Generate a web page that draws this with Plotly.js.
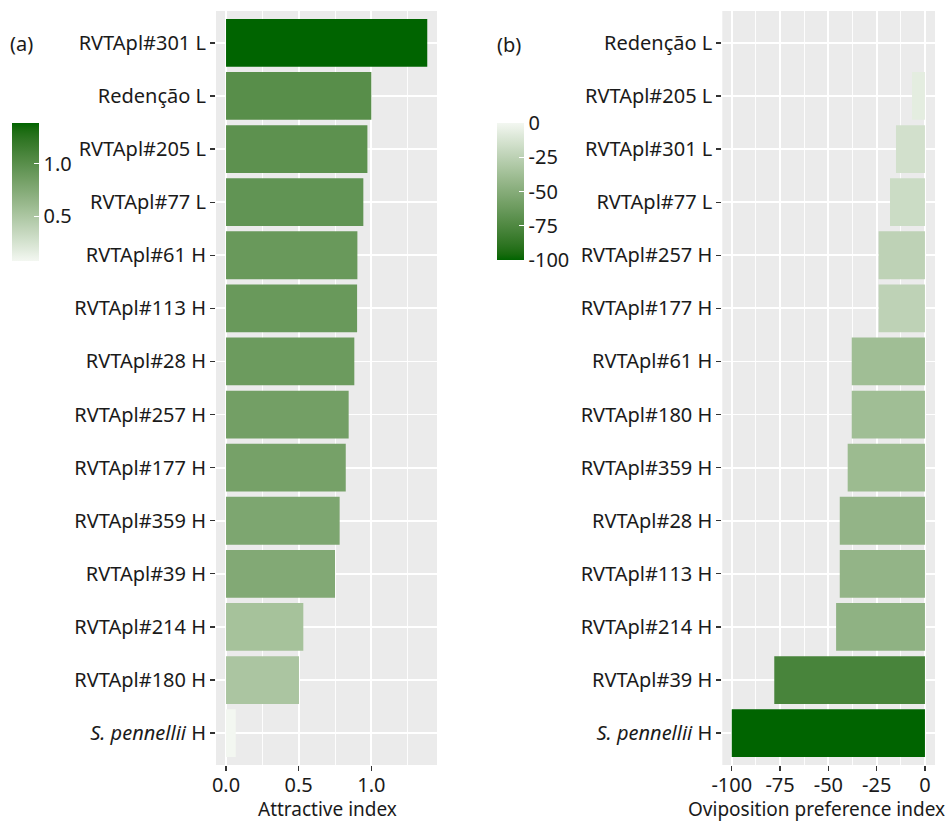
<!DOCTYPE html>
<html>
<head>
<meta charset="utf-8">
<script src="https://cdn.plot.ly/plotly-3.0.1.min.js"></script>
<style>
  html, body { margin: 0; padding: 0; background: #fff; }
  #chart { width: 951px; height: 823px; }
</style>
</head>
<body>
<div id="chart"></div>
<script>
// ---- Data ----
const catsA = ['RVTApl#301 L', 'Redenção L', 'RVTApl#205 L', 'RVTApl#77 L', 'RVTApl#61 H', 'RVTApl#113 H',
  'RVTApl#28 H', 'RVTApl#257 H', 'RVTApl#177 H', 'RVTApl#359 H', 'RVTApl#39 H', 'RVTApl#214 H',
  'RVTApl#180 H', '<i>S. pennellii</i> H'];
const attractiveIndex = [1.385, 1.0, 0.973, 0.945, 0.904, 0.902, 0.883, 0.844, 0.824, 0.782, 0.750, 0.532, 0.502, 0.067];

const catsB = ['Redenção L', 'RVTApl#205 L', 'RVTApl#301 L', 'RVTApl#77 L', 'RVTApl#257 H', 'RVTApl#177 H',
  'RVTApl#61 H', 'RVTApl#180 H', 'RVTApl#359 H', 'RVTApl#28 H', 'RVTApl#113 H', 'RVTApl#214 H',
  'RVTApl#39 H', '<i>S. pennellii</i> H'];
const ovipositionIndex = [0, -6.7, -15, -18.1, -24, -24, -37.9, -37.9, -40, -44.1, -44.1, -46, -78, -100];

const ticksA = [0, 0.5, 1.0];
const tickTextA = ['0.0', '0.5', '1.0'];
const ticksB = [-100, -75, -50, -25, 0];
const tickTextB = ['-100', '-75', '-50', '-25', '0'];
const cbTicksA = [0.5, 1.0];
const cbTickTextA = ['0.5', '1.0'];
const cbTicksB = [0, -25, -50, -75, -100];
const cbTickTextB = ['0', '-25', '-50', '-75', '-100'];
const titleA = 'Attractive index';
const titleB = 'Oviposition preference index';

// ---- Lab-space gradient pale -> darkgreen (like ggplot's scale_fill_gradient) ----
function hex2rgb(h) { return [parseInt(h.slice(1,3),16), parseInt(h.slice(3,5),16), parseInt(h.slice(5,7),16)]; }
function s2l(c) { c /= 255; return c <= 0.04045 ? c / 12.92 : Math.pow((c + 0.055) / 1.055, 2.4); }
function l2s(c) { const v = c <= 0.0031308 ? 12.92 * c : 1.055 * Math.pow(c, 1/2.4) - 0.055; return Math.max(0, Math.min(255, Math.round(v * 255))); }
const Wn = [0.95047, 1.0, 1.08883];
function f(t) { return t > 216/24389 ? Math.cbrt(t) : (24389/27 * t + 16) / 116; }
function finv(t) { return t*t*t > 216/24389 ? t*t*t : (116 * t - 16) / (24389/27); }
function rgb2lab(rgb) {
  const [r, g, b] = rgb.map(s2l);
  const X = 0.4124 * r + 0.3576 * g + 0.1805 * b;
  const Y = 0.2126 * r + 0.7152 * g + 0.0722 * b;
  const Z = 0.0193 * r + 0.1192 * g + 0.9505 * b;
  const fx = f(X / Wn[0]), fy = f(Y / Wn[1]), fz = f(Z / Wn[2]);
  return [116 * fy - 16, 500 * (fx - fy), 200 * (fy - fz)];
}
function lab2rgb(lab) {
  const fy = (lab[0] + 16) / 116, fx = fy + lab[1] / 500, fz = fy - lab[2] / 200;
  const X = Wn[0] * finv(fx), Y = Wn[1] * finv(fy), Z = Wn[2] * finv(fz);
  const r = 3.2406 * X - 1.5372 * Y - 0.4986 * Z;
  const g = -0.9689 * X + 1.8758 * Y + 0.0415 * Z;
  const b = 0.0557 * X - 0.2040 * Y + 1.0570 * Z;
  return [l2s(r), l2s(g), l2s(b)];
}
function labScale(lowHex, highHex, n) {
  const a = rgb2lab(hex2rgb(lowHex)), b = rgb2lab(hex2rgb(highHex));
  const out = [];
  for (let i = 0; i <= n; i++) {
    const t = i / n;
    const c = lab2rgb([a[0] + (b[0] - a[0]) * t, a[1] + (b[1] - a[1]) * t, a[2] + (b[2] - a[2]) * t]);
    out.push([t, 'rgb(' + c.join(',') + ')']);
  }
  return out;
}
const greenScale = labScale('#F3F7F1', '#006400', 24);

const FONT = '"Noto Sans", "Open Sans", sans-serif';
const TXT = '#1a1a1a';
const FS = 20;
const W = 951, H = 823;

const traceA = {
  type: 'bar', orientation: 'h',
  x: attractiveIndex, y: catsA,
  width: 0.9,
  xaxis: 'x', yaxis: 'y',
  marker: {
    color: attractiveIndex,
    colorscale: greenScale,
    cmin: Math.min(...attractiveIndex), cmax: Math.max(...attractiveIndex),
    line: { width: 0 },
    colorbar: {
      x: 12 / W, xanchor: 'left', xref: 'paper',
      y: 1 - 192.5 / H, yanchor: 'middle',
      len: 138, lenmode: 'pixels',
      thickness: 27, thicknessmode: 'pixels',
      outlinewidth: 0, xpad: 0, ypad: 0,
      tickmode: 'array', tickvals: cbTicksA, ticktext: cbTickTextA,
      ticks: 'inside', ticklen: 5, tickcolor: '#ffffff', tickwidth: 1,
      tickfont: { family: FONT, size: FS, color: TXT }
    }
  },
  hoverinfo: 'skip', showlegend: false
};

const traceB = {
  type: 'bar', orientation: 'h',
  x: ovipositionIndex, y: catsB,
  width: 0.9,
  xaxis: 'x2', yaxis: 'y2',
  marker: {
    color: ovipositionIndex,
    colorscale: greenScale, reversescale: true,
    cmin: Math.min(...ovipositionIndex), cmax: Math.max(...ovipositionIndex),
    line: { width: 0 },
    colorbar: {
      x: 497.5 / W, xanchor: 'left', xref: 'paper',
      y: 1 - 191.5 / H, yanchor: 'middle',
      len: 137, lenmode: 'pixels',
      thickness: 27, thicknessmode: 'pixels',
      outlinewidth: 0, xpad: 0, ypad: 0,
      tickmode: 'array', tickvals: cbTicksB, ticktext: cbTickTextB,
      ticks: 'inside', ticklen: 5, tickcolor: '#ffffff', tickwidth: 1,
      tickfont: { family: FONT, size: FS, color: TXT }
    }
  },
  hoverinfo: 'skip', showlegend: false
};

const yDomain = [1 - 765 / H, 1 - 11 / H];
const baseX = {
  showgrid: true, gridcolor: '#ffffff', gridwidth: 1.8,
  zeroline: false, showline: false,
  ticks: 'outside', ticklen: 5, tickwidth: 1.3, tickcolor: '#333333',
  tickfont: { family: FONT, size: FS, color: TXT },
  ticklabelstandoff: -3,
  tickmode: 'array', automargin: false, fixedrange: true
};
const baseY = {
  type: 'category',
  showgrid: true, gridcolor: '#ffffff', gridwidth: 1.8,
  zeroline: false, showline: false,
  ticks: 'outside', ticklen: 5, tickwidth: 1.3, tickcolor: '#333333',
  tickfont: { family: FONT, size: FS, color: TXT },
  range: [13.6, -0.6], domain: yDomain, automargin: false, fixedrange: true
};

const layout = {
  width: W, height: H,
  margin: { l: 0, r: 0, t: 0, b: 0 },
  paper_bgcolor: '#ffffff',
  plot_bgcolor: '#EBEBEB',
  font: { family: FONT, color: TXT },
  showlegend: false,
  xaxis: Object.assign({}, baseX, {
    domain: [216 / W, 437 / W], range: [-0.069, 1.452], anchor: 'y',
    tickvals: ticksA, ticktext: tickTextA,
    minor: { dtick: 0.25, tick0: 0, showgrid: true, gridcolor: '#ffffff', gridwidth: 0.9, ticks: '' }
  }),
  yaxis: Object.assign({}, baseY, {
    anchor: 'x', categoryorder: 'array', categoryarray: catsA
  }),
  xaxis2: Object.assign({}, baseX, {
    domain: [722.3 / W, 935 / W], range: [-104.9, 5.2], anchor: 'y2',
    tickvals: ticksB, ticktext: tickTextB,
    minor: { dtick: 12.5, tick0: 0, showgrid: true, gridcolor: '#ffffff', gridwidth: 0.9, ticks: '' }
  }),
  yaxis2: Object.assign({}, baseY, {
    anchor: 'x2', categoryorder: 'array', categoryarray: catsB
  }),
  annotations: [
    { text: '(a)', xref: 'paper', yref: 'paper', x: 8 / W, y: 1 - 43 / H, xanchor: 'left', yanchor: 'middle',
      showarrow: false, font: { family: FONT, size: FS, color: TXT } },
    { text: '(b)', xref: 'paper', yref: 'paper', x: 495 / W, y: 1 - 45 / H, xanchor: 'left', yanchor: 'middle',
      showarrow: false, font: { family: FONT, size: FS, color: TXT } },
    { text: titleA, xref: 'paper', yref: 'paper', x: 327 / W, y: 0, xanchor: 'center', yanchor: 'bottom',
      showarrow: false, borderpad: 0, font: { family: FONT, size: 19, color: TXT } },
    { text: titleB, xref: 'paper', yref: 'paper', x: 816 / W, y: 0, xanchor: 'center', yanchor: 'bottom',
      showarrow: false, borderpad: 0, font: { family: FONT, size: 19, color: TXT } }
  ]
};

Plotly.newPlot('chart', [traceA, traceB], layout, { displayModeBar: false, staticPlot: true });
</script>
</body>
</html>
